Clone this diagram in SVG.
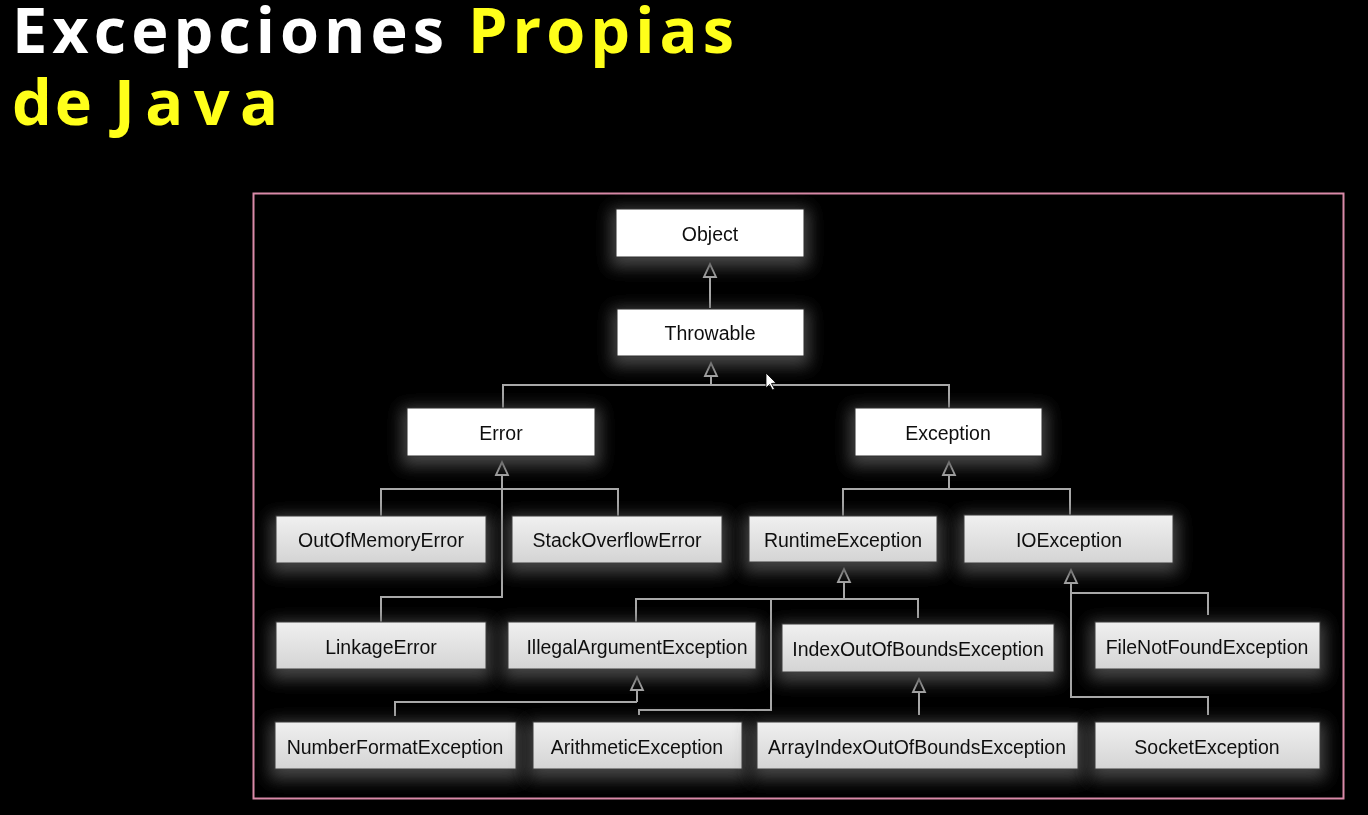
<svg xmlns="http://www.w3.org/2000/svg" width="1368" height="815" viewBox="0 0 1368 815">
<defs>
<style>
.title{font-family:"Open Sans","Noto Sans",sans-serif;font-weight:700;font-size:63px;}
.w{fill:#ffffff;}
.y{fill:#ffff1a;}
.lbl{font-family:"Liberation Sans",Arial,sans-serif;font-size:19.5px;fill:#111;text-anchor:middle;}
.top{fill:#ffffff;stroke:#2a2a2a;stroke-width:1;}
.sub{fill:url(#gray);stroke:#3a3a3a;stroke-width:1;}
.conn{fill:none;stroke:#a8a8a8;stroke-width:2;}
</style>
<linearGradient id="gray" x1="0" y1="0" x2="0" y2="1">
<stop offset="0" stop-color="#f0f0f0"/>
<stop offset="1" stop-color="#d4d4d4"/>
</linearGradient>
<filter id="glow" x="-25%" y="-70%" width="150%" height="250%">
<feMorphology in="SourceAlpha" operator="dilate" radius="5" result="d"/>
<feGaussianBlur in="d" stdDeviation="8" result="b"/>
<feOffset in="b" dy="5" result="o"/>
<feFlood flood-color="#4c4c4c" flood-opacity="0.9"/>
<feComposite in2="o" operator="in" result="g"/>
<feMerge><feMergeNode in="g"/><feMergeNode in="SourceGraphic"/></feMerge>
</filter>
<marker id="tri" markerUnits="userSpaceOnUse" markerWidth="16" markerHeight="16" refX="14" refY="7" orient="auto" viewBox="0 0 16 14">
<path d="M1,1 L14,7 L1,13 Z" fill="#000" stroke="#a8a8a8" stroke-width="1.8"/>
</marker>
</defs>
<rect width="1368" height="815" fill="#000"/>
<g id="title">
<text class="title w" x="12" y="53" textLength="432" lengthAdjust="spacing">Excepciones</text>
<text class="title y" x="468" y="53" textLength="266" lengthAdjust="spacing">Propias</text>
<text class="title y" x="12" y="125" textLength="80" lengthAdjust="spacing">de</text>
<text class="title y" x="114" y="125" textLength="164" lengthAdjust="spacing">Java</text>
</g>
<rect id="frame" x="253.5" y="193.5" width="1090" height="605" fill="none" stroke="#d98aa8" stroke-width="2"/>
<g id="connectors">
<path class="conn" d="M710,308 V264" marker-end="url(#tri)"/>
<path class="conn" d="M711,385 V363" marker-end="url(#tri)"/>
<path class="conn" d="M503,408 V385 H949 V408"/>
<path class="conn" d="M381,622 V597 H502 V462" marker-end="url(#tri)"/>
<path class="conn" d="M381,516 V489 H618 V516"/>
<path class="conn" d="M949,489 V462" marker-end="url(#tri)"/>
<path class="conn" d="M843,516 V489 H1070 V516"/>
<path class="conn" d="M844,599 V569" marker-end="url(#tri)"/>
<path class="conn" d="M636,622 V599 H918 V618"/>
<path class="conn" d="M771,599 V710 H639 V715"/>
<path class="conn" d="M637,702 V677" marker-end="url(#tri)"/>
<path class="conn" d="M395,716 V702 H637"/>
<path class="conn" d="M919,715 V679" marker-end="url(#tri)"/>
<path class="conn" d="M1208,715 V697 H1071 V570" marker-end="url(#tri)"/>
<path class="conn" d="M1071,593 H1208 V615"/>
</g>
<g id="n-object" filter="url(#glow)"><rect class="top" x="616" y="209" width="188" height="48"/><text class="lbl" x="710" y="241">Object</text></g>
<g id="n-throwable" filter="url(#glow)"><rect class="top" x="617" y="309" width="187" height="47"/><text class="lbl" x="710" y="340">Throwable</text></g>
<g id="n-error" filter="url(#glow)"><rect class="top" x="407" y="408" width="188" height="48"/><text class="lbl" x="501" y="440">Error</text></g>
<g id="n-exception" filter="url(#glow)"><rect class="top" x="855" y="408" width="187" height="48"/><text class="lbl" x="948" y="440">Exception</text></g>
<g id="n-oome" filter="url(#glow)"><rect class="sub" x="276" y="516" width="210" height="47"/><text class="lbl" x="381" y="547">OutOfMemoryError</text></g>
<g id="n-soe" filter="url(#glow)"><rect class="sub" x="512" y="516" width="210" height="47"/><text class="lbl" x="617" y="547">StackOverflowError</text></g>
<g id="n-runtime" filter="url(#glow)"><rect class="sub" x="749" y="516" width="188" height="46"/><text class="lbl" x="843" y="547">RuntimeException</text></g>
<g id="n-io" filter="url(#glow)"><rect class="sub" x="964" y="515" width="209" height="48"/><text class="lbl" x="1069" y="547">IOException</text></g>
<g id="n-linkage" filter="url(#glow)"><rect class="sub" x="276" y="622" width="210" height="47"/><text class="lbl" x="381" y="654">LinkageError</text></g>
<g id="n-illegal" filter="url(#glow)"><rect class="sub" x="508" y="622" width="248" height="47"/><text class="lbl" x="637" y="654">IllegalArgumentException</text></g>
<g id="n-ioob" filter="url(#glow)"><rect class="sub" x="782" y="624" width="272" height="48"/><text class="lbl" x="918" y="656">IndexOutOfBoundsException</text></g>
<g id="n-fnf" filter="url(#glow)"><rect class="sub" x="1095" y="622" width="225" height="47"/><text class="lbl" x="1207" y="654">FileNotFoundException</text></g>
<g id="n-nfe" filter="url(#glow)"><rect class="sub" x="275" y="722" width="241" height="47"/><text class="lbl" x="395" y="754">NumberFormatException</text></g>
<g id="n-arith" filter="url(#glow)"><rect class="sub" x="533" y="722" width="209" height="47"/><text class="lbl" x="637" y="754">ArithmeticException</text></g>
<g id="n-aioob" filter="url(#glow)"><rect class="sub" x="757" y="722" width="321" height="47"/><text class="lbl" x="917" y="754">ArrayIndexOutOfBoundsException</text></g>
<g id="n-socket" filter="url(#glow)"><rect class="sub" x="1095" y="722" width="225" height="47"/><text class="lbl" x="1207" y="754">SocketException</text></g>
<path id="cursor" d="M766,373 L766,388 L769.5,384.5 L772.5,390 L774.5,389 L771.5,383.5 L776,383 Z" fill="#fff" stroke="#000" stroke-width="0.8"/>
</svg>
